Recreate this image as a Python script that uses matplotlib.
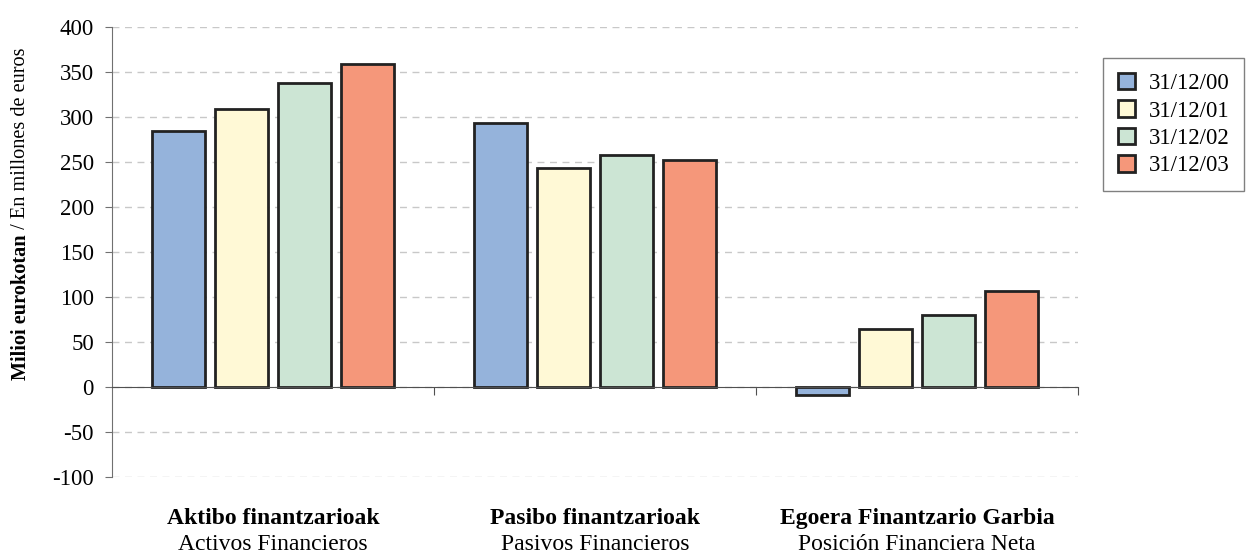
import matplotlib
matplotlib.use("Agg")
import matplotlib.pyplot as plt
import matplotlib.transforms as mtransforms
from matplotlib.patches import Patch
import numpy as np

plt.rcParams['font.family'] = ['Liberation Serif', 'DejaVu Serif']

categories_eu = ["Aktibo finantzarioak", "Pasibo finantzarioak", "Egoera Finantzario Garbia"]
categories_es = ["Activos Financieros", "Pasivos Financieros", "Posición Financiera Neta"]
series_labels = ["31/12/00", "31/12/01", "31/12/02", "31/12/03"]
v_2000 = [285, 293, -9]
v_2001 = [309, 243, 65]
v_2002 = [338, 258, 80]
v_2003 = [359, 252, 107]
colors = ["#95B3DB", "#FFF9D6", "#CCE5D4", "#F5977A"]
yticks = [-100, -50, 0, 50, 100, 150, 200, 250, 300, 350, 400]

values = [v_2000, v_2001, v_2002, v_2003]

W, H = 1246, 556
fig = plt.figure(figsize=(W/100, H/100), dpi=100)
ax = fig.add_axes([112/W, 1-477/H, (1078-112)/W, (477-27)/H])

centers = np.arange(len(categories_eu)) + 0.5
step = 0.196
width = 0.165
for i, (vals, c) in enumerate(zip(values, colors)):
    ax.bar(centers + (i - 1.5) * step, vals, width=width, color=c,
           edgecolor="#222222", linewidth=2.0, zorder=3)

ax.set_xlim(0, 3)
ax.set_ylim(-100, 400)
ax.set_yticks(yticks)
ax.set_yticklabels([str(t) for t in yticks], fontsize=16.5)
ax.yaxis.grid(True, linestyle=(0, (5, 4)), color="#C8C8C8", linewidth=1.0, zorder=0)
ax.set_axisbelow(True)

for s in ["top", "right"]:
    ax.spines[s].set_visible(False)
ax.spines["bottom"].set_position(("data", 0))
ax.spines["bottom"].set_color("#505050")
ax.spines["left"].set_color("#707070")
ax.spines["bottom"].set_zorder(4)
ax.set_xticks([1, 2, 3])
ax.set_xticklabels([])
ax.tick_params(axis="x", length=6, color="#505050", direction="out")
ax.tick_params(axis="y", length=5, color="#707070", direction="out", pad=8)

trans = mtransforms.blended_transform_factory(ax.transData, fig.transFigure)
for c, eu, es in zip(centers, categories_eu, categories_es):
    ax.text(c, 1-524/H, eu, transform=trans, ha="center", va="baseline",
            fontsize=17, fontweight="bold")
    ax.text(c, 1-550/H, es, transform=trans, ha="center", va="baseline",
            fontsize=17)

# y label: bold part + normal part
fig.canvas.draw()
r = fig.canvas.get_renderer()
xl = 21/W
t1 = fig.text(xl, 0, "Milioi eurokotan", rotation=90, fontsize=14.6,
              fontweight="bold", ha="center", va="bottom")
t2 = fig.text(xl, 0, " / En millones de euros", rotation=90, fontsize=14.6,
              ha="center", va="bottom")
h1 = t1.get_window_extent(r).height
h2 = t2.get_window_extent(r).height
total = h1 + h2
center_y = (47 + 380) / 2
start = H - center_y - total/2
t1.set_position((xl, start/H))
t2.set_position((xl, (start + h1)/H))

handles = [Patch(facecolor=c, edgecolor="#222222", linewidth=2.0) for c in colors]
leg = fig.legend(handles, series_labels, loc="upper left",
                 bbox_to_anchor=(1103/W, 1-58/H), fontsize=16.4,
                 frameon=True, fancybox=False, edgecolor="#606060",
                 handlelength=0.75, handleheight=0.75, handletextpad=0.6,
                 labelspacing=0.27, borderpad=0.65, borderaxespad=0)
leg.get_frame().set_linewidth(1.0)

fig.savefig("out.png", dpi=100)
